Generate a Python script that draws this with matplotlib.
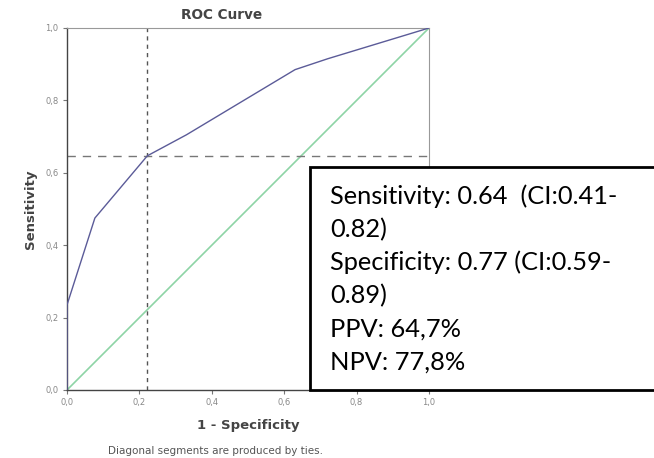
import matplotlib
matplotlib.use("Agg")
import matplotlib.pyplot as plt
from matplotlib.patches import Rectangle

# ROC curve data (1 - specificity, sensitivity)
fpr = [0.0, 0.0, 0.077, 0.222, 0.33, 0.63, 0.72, 1.0]
tpr = [0.0, 0.235, 0.475, 0.647, 0.705, 0.885, 0.915, 1.0]
ref_line = [0.0, 1.0]
cut_x = 0.222
cut_y = 0.647
ticks = [0.0, 0.2, 0.4, 0.6, 0.8, 1.0]
tick_labels = ["0,0", "0,2", "0,4", "0,6", "0,8", "1,0"]
box_lines = [
    "Sensitivity: 0.64  (CI:0.41-",
    "0.82)",
    "Specificity: 0.77 (CI:0.59-",
    "0.89)",
    "PPV: 64,7%",
    "NPV: 77,8%",
]

W, H = 654, 458
fig = plt.figure(figsize=(W / 100, H / 100), dpi=100)
ax = fig.add_axes([67 / W, 1 - 390 / H, (429 - 67) / W, (390 - 28) / H])

ax.plot(ref_line, ref_line, color="#8ed4a6", lw=1.2, zorder=2)
ax.plot(fpr, tpr, color="#5b5b98", lw=1.0, zorder=3)
ax.axvline(cut_x, color="#555555", lw=1.0, ls=(0, (3, 3)), zorder=2)
ax.axhline(cut_y, color="#777777", lw=1.0, ls=(0, (6, 5)), zorder=2)

ax.set_xlim(0, 1)
ax.set_ylim(0, 1)
ax.set_xticks(ticks)
ax.set_xticklabels(tick_labels)
ax.set_yticks(ticks)
ax.set_yticklabels(tick_labels)
ax.tick_params(direction="out", length=3, width=0.8, labelsize=6,
               colors="#777777", labelcolor="#888888", pad=3)
for side in ["left", "bottom"]:
    ax.spines[side].set_color("#444444")
    ax.spines[side].set_linewidth(1.0)
for side in ["top", "right"]:
    ax.spines[side].set_color("#999999")
    ax.spines[side].set_linewidth(0.8)

fig.text(222 / W, 1 - 15 / H, "ROC Curve", ha="center", va="center",
         fontsize=9.8, fontweight="bold", color="#444444")
fig.text(248 / W, 1 - 425 / H, "1 - Specificity", ha="center", va="center",
         fontsize=9.5, fontweight="bold", color="#444444")
fig.text(30 / W, 1 - 209 / H, "Sensitivity", ha="center", va="center",
         rotation=90, fontsize=9.5, fontweight="bold", color="#444444")
fig.text(215 / W, 1 - 451 / H, "Diagonal segments are produced by ties.",
         ha="center", va="center", fontsize=7.5, color="#555555")

rect = Rectangle((310 / W, 1 - 390 / H), (W - 310 + 5) / W, (390 - 167) / H,
                 transform=fig.transFigure, facecolor="white",
                 edgecolor="black", lw=2.0, zorder=10, clip_on=False)
fig.add_artist(rect)
baseline0, step = 204, 33.2
for i, line in enumerate(box_lines):
    fig.text(330 / W, 1 - (baseline0 + i * step) / H, line, ha="left",
             va="baseline", fontsize=18.3, family="Lato", color="black",
             zorder=11)

fig.savefig("out.png", dpi=100)
